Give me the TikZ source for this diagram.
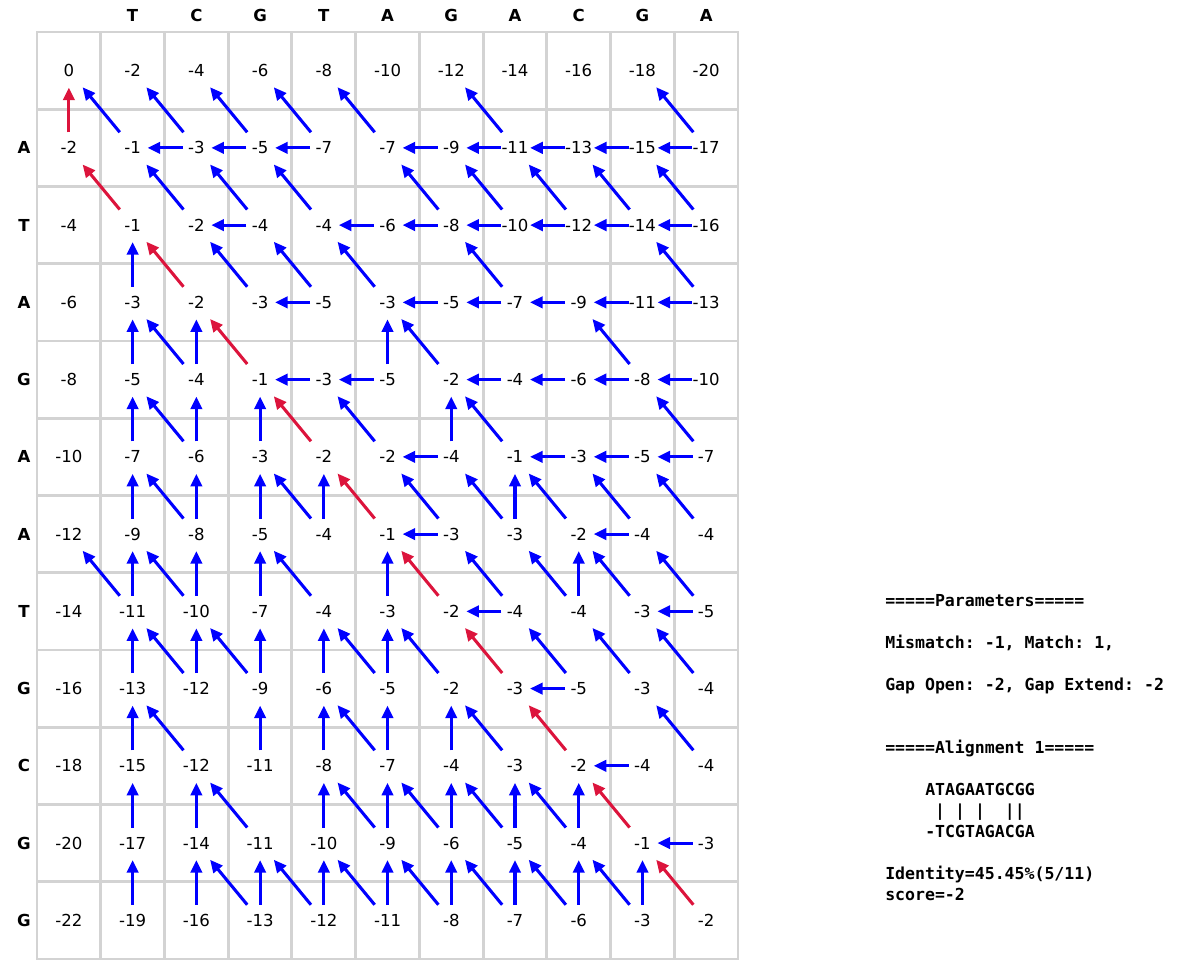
\documentclass[tikz,border=0pt]{standalone}
\usepackage{fontspec}
\setmainfont{DejaVu Sans}
\newfontfamily\codefont{DejaVu Sans Mono}
\usepackage{tikz}
\usepackage{xcolor}
\usetikzlibrary{arrows.meta}
\definecolor{gridgray}{RGB}{211,211,211}
\definecolor{pathred}{RGB}{220,20,60}
\frenchspacing

\begin{document}
\begin{tikzpicture}[x=0.75pt,y=-0.75pt]
\tikzstyle{every node}=[font=\fontsize{12.4}{14}\selectfont];
\tikzstyle{num}=[minimum width=20pt,minimum height=23pt,inner sep=0pt];
\tikzstyle{hdr}=[font=\fontsize{12.4}{14}\selectfont\bfseries];
\tikzstyle{txt}=[anchor=base west,inner sep=0pt,font=\fontsize{12.4}{14}\selectfont\codefont\bfseries];
\tikzstyle{ptr}=[blue,line width=2.3pt,-{Triangle[length=9.5pt,width=8.5pt]},shorten >=1pt];
\tikzstyle{hit}=[ptr,pathred];
\useasboundingbox (0,0) rectangle (1200,972);
% grid
\draw[gridgray,line width=2.2pt] (37,32) rectangle (738,959);
\foreach \k in {1,...,10} \draw[gridgray,line width=2.2pt] ({37+63.73*\k},32) -- ({37+63.73*\k},959);
\foreach \k in {1,...,11} \draw[gridgray,line width=2.2pt] (37,{32+77.25*\k}) -- (738,{32+77.25*\k});
% sequences
\foreach \c [count=\j] in {T,C,G,T,A,G,A,C,G,A} \node[hdr] (col\j) at ({68.9+63.73*\j},15) {\c};
\foreach \r [count=\i] in {A,T,A,G,A,A,T,G,C,G,G} \node[hdr] (row\i) at (24,{70.6+77.25*\i}) {\r};
% scores
\foreach \vals [count=\i from 0] in {
 {0,-2,-4,-6,-8,-10,-12,-14,-16,-18,-20},
 {-2,-1,-3,-5,-7,-7,-9,-11,-13,-15,-17},
 {-4,-1,-2,-4,-4,-6,-8,-10,-12,-14,-16},
 {-6,-3,-2,-3,-5,-3,-5,-7,-9,-11,-13},
 {-8,-5,-4,-1,-3,-5,-2,-4,-6,-8,-10},
 {-10,-7,-6,-3,-2,-2,-4,-1,-3,-5,-7},
 {-12,-9,-8,-5,-4,-1,-3,-3,-2,-4,-4},
 {-14,-11,-10,-7,-4,-3,-2,-4,-4,-3,-5},
 {-16,-13,-12,-9,-6,-5,-2,-3,-5,-3,-4},
 {-18,-15,-12,-11,-8,-7,-4,-3,-2,-4,-4},
 {-20,-17,-14,-11,-10,-9,-6,-5,-4,-1,-3},
 {-22,-19,-16,-13,-12,-11,-8,-7,-6,-3,-2}}
 \foreach \v [count=\j from 0] in \vals
  \node[num] (v\i-\j) at ({68.9+63.73*\j},{70.6+77.25*\i}) {\v};
% up pointers
\foreach \i/\j in {3/1,4/1,4/2,4/5,5/1,5/2,5/3,5/6,6/1,6/2,6/3,6/4,6/7,7/1,7/2,7/3,7/5,7/8,
 8/1,8/2,8/3,8/4,8/5,9/1,9/3,9/4,9/5,9/6,10/1,10/2,10/4,10/5,10/6,10/7,10/8,
 11/1,11/2,11/3,11/4,11/5,11/6,11/7,11/8,11/9}
 {\pgfmathtruncatemacro\a{\i-1}\draw[ptr] (v\i-\j) -- (v\a-\j);}
% diagonal pointers
\foreach \i/\j in {1/1,1/2,1/3,1/4,1/5,1/7,1/10,2/2,2/3,2/4,2/6,2/7,2/8,2/9,2/10,
 3/3,3/4,3/5,3/7,3/10,4/2,4/6,4/9,5/2,5/5,5/7,5/10,6/2,6/4,6/6,6/7,6/8,6/9,6/10,
 7/1,7/2,7/4,7/7,7/8,7/9,7/10,8/2,8/3,8/5,8/6,8/8,8/9,8/10,9/2,9/5,9/7,9/10,
 10/3,10/5,10/6,10/7,10/8,11/3,11/4,11/5,11/6,11/7,11/8,11/9}
 {\pgfmathtruncatemacro\a{\i-1}\pgfmathtruncatemacro\b{\j-1}\draw[ptr] (v\i-\j) -- (v\a-\b);}
% left pointers
\foreach \i/\j in {1/2,1/3,1/4,1/6,1/7,1/8,1/9,1/10,2/3,2/5,2/6,2/7,2/8,2/9,2/10,
 3/4,3/6,3/7,3/8,3/9,3/10,4/4,4/5,4/7,4/8,4/9,4/10,5/6,5/8,5/9,5/10,
 6/6,6/9,7/7,7/10,8/8,9/9,10/10}
 {\pgfmathtruncatemacro\b{\j-1}\draw[ptr] (v\i-\j) -- (v\i-\b);}
% traceback
\draw[hit] (v1-0) -- (v0-0);
\foreach \i in {2,...,11}
 {\pgfmathtruncatemacro\a{\i-1}\pgfmathtruncatemacro\b{\i-2}\draw[hit] (v\i-\a) -- (v\a-\b);}
% summary
\node[txt] (t1) at (885,606) {=====Parameters=====};
\node[txt] (t2) at (885,648) {Mismatch: -1, Match: 1,};
\node[txt] (t3) at (885,690) {Gap Open: -2, Gap Extend: -2};
\node[txt] (t4) at (885,753) {=====Alignment 1=====};
\node[txt] (t5) at (925,795) {ATAGAATGCGG};
\node[txt] (t6) at (925,816) {~|~|~|~~||};
\node[txt] (t7) at (925,837) {-TCGTAGACGA};
\node[txt] (t8) at (885,879) {Identity=45.45\%(5/11)};
\node[txt] (t9) at (885,900) {score=-2};
\end{tikzpicture}
\end{document}
